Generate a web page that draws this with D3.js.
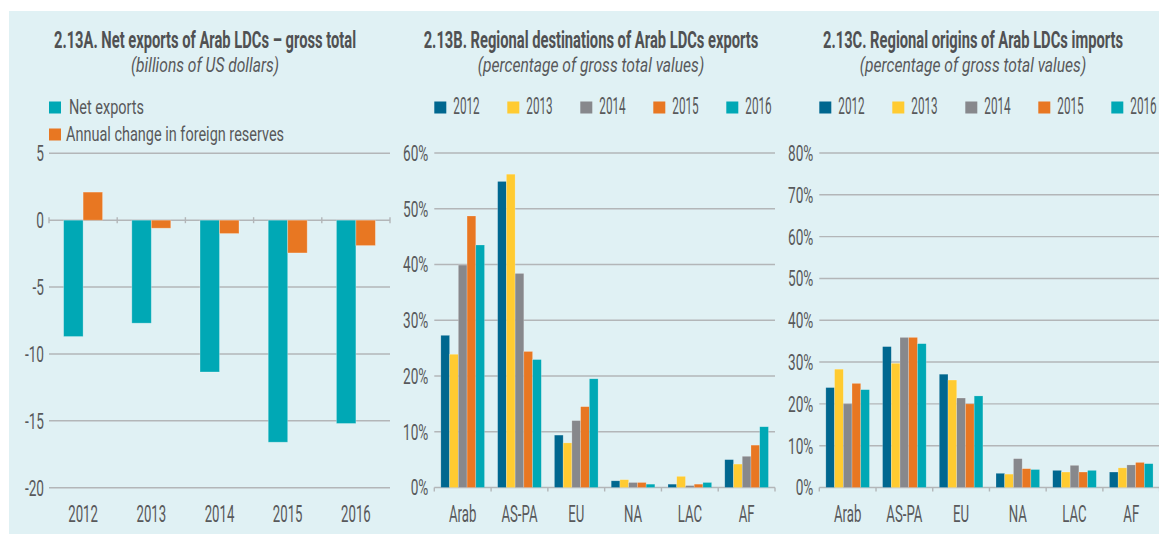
<!DOCTYPE html>
<html>
<head>
<meta charset="utf-8">
<script src="https://cdn.jsdelivr.net/npm/d3@7"></script>
<style>
  body { margin: 0; background: #fff; }
  svg text { font-family: Roboto, "Liberation Sans", sans-serif; fill: #58595b; }
</style>
</head>
<body>
<svg id="chart" width="1159" height="535"></svg>
<script>
// panel A
const yearsA = ["2012", "2013", "2014", "2015", "2016"];
const netExports = [-8.7, -7.7, -11.35, -16.6, -15.2];
const reserveChange = [2.1, -0.6, -1.0, -2.45, -1.9];
const seriesA = ["Net exports", "Annual change in foreign reserves"];
const ticksA = [5, 0, -5, -10, -15, -20];

// panels B and C
const regions = ["Arab", "AS-PA", "EU", "NA", "LAC", "AF"];
const years = ["2012", "2013", "2014", "2015", "2016"];
const exportDest = [
  [27.3, 54.9, 9.4, 1.2, 0.6, 5.0],
  [23.9, 56.2, 8.0, 1.4, 2.0, 4.2],
  [39.9, 38.4, 12.0, 0.9, 0.35, 5.6],
  [48.7, 24.4, 14.5, 0.9, 0.6, 7.6],
  [43.5, 22.95, 19.5, 0.6, 0.9, 10.9]
];
const importOrig = [
  [23.9, 33.7, 27.1, 3.4, 4.1, 3.7],
  [28.3, 29.7, 25.7, 3.2, 3.7, 4.7],
  [20.0, 35.9, 21.4, 6.9, 5.3, 5.4],
  [24.9, 35.9, 20.0, 4.5, 3.7, 6.0],
  [23.4, 34.4, 21.9, 4.3, 4.1, 5.7]
];
const ticksB = [0, 10, 20, 30, 40, 50, 60];
const ticksC = [0, 10, 20, 30, 40, 50, 60, 70, 80];

const yearColors = ["#00678f", "#ffcb31", "#87888c", "#e87722", "#00a8b5"];
const colorsA = ["#00a8b5", "#e87722"];
const gridColor = "#b3b6b8";

const svg = d3.select("#chart");

svg.append("rect")
  .attr("x", 9).attr("y", 11)
  .attr("width", 1160).attr("height", 523)
  .attr("fill", "#e0f1f4");

// squeeze text horizontally to mimic the condensed face
function condense(sel, k) {
  sel.each(function () {
    const t = d3.select(this);
    const x = +t.attr("x"), y = +t.attr("y");
    t.attr("x", 0).attr("y", 0)
      .attr("transform", `translate(${x},${y}) scale(${k},1)`);
  });
}

function titles(cx, title, sub) {
  svg.append("text")
    .attr("x", cx).attr("y", 48)
    .attr("text-anchor", "middle")
    .style("font-size", "23px").style("font-weight", "bold")
    .style("fill", "#505153")
    .text(title)
    .call(condense, 0.64);
  svg.append("text")
    .attr("x", cx).attr("y", 72)
    .attr("text-anchor", "middle")
    .style("font-size", "20px").style("font-style", "italic")
    .text(sub)
    .call(condense, 0.78);
}

function gridlines(y, ticks, x0, x1, fmt, labelX) {
  const g = svg.append("g");
  g.selectAll("line")
    .data(ticks)
    .join("line")
    .attr("x1", x0).attr("x2", x1)
    .attr("y1", d => y(d)).attr("y2", d => y(d))
    .attr("stroke", gridColor)
    .attr("stroke-width", 1.4);
  g.selectAll("text")
    .data(ticks)
    .join("text")
    .attr("x", labelX).attr("y", d => y(d))
    .attr("dy", "0.36em")
    .attr("text-anchor", "end")
    .style("font-size", "22px")
    .text(fmt)
    .call(condense, 0.62);
}

function xLabels(x) {
  svg.append("g")
    .selectAll("text")
    .data(x.domain())
    .join("text")
    .attr("x", d => x(d) + x.bandwidth() / 2)
    .attr("y", 522)
    .attr("text-anchor", "middle")
    .style("font-size", "24px")
    .text(d => d)
    .call(condense, 0.55);
}

function bandTicks(x, y0, up, down) {
  const edges = x.domain().map(d => x(d)).concat([x.range()[1]]);
  svg.append("g")
    .selectAll("line")
    .data(edges)
    .join("line")
    .attr("x1", d => d).attr("x2", d => d)
    .attr("y1", y0 - up).attr("y2", y0 + down)
    .attr("stroke", gridColor)
    .attr("stroke-width", 1.4);
}

// ---------- A ----------
{
  const x0 = d3.scaleBand().domain(yearsA).range([49, 390]);
  const x1 = d3.scaleBand().domain(seriesA).range([0, x0.bandwidth()]).paddingOuter(0.75);
  const y = d3.scaleLinear().domain([-20, 5]).range([487.7, 153.3]);

  titles(205, "2.13A. Net exports of Arab LDCs \u2013 gross total", "(billions of US dollars)");
  gridlines(y, ticksA, 49, 390, d => d, 44);
  bandTicks(x0, y(0), 3, 3);

  const rows = yearsA.map((yr, i) => [netExports[i], reserveChange[i]]);
  svg.append("g")
    .selectAll("g")
    .data(rows)
    .join("g")
    .attr("transform", (d, i) => `translate(${x0(yearsA[i])},0)`)
    .selectAll("rect")
    .data(d => d.map((v, j) => ({ v, key: seriesA[j], c: colorsA[j] })))
    .join("rect")
    .attr("x", d => x1(d.key))
    .attr("width", x1.bandwidth())
    .attr("y", d => y(Math.max(0, d.v)))
    .attr("height", d => Math.abs(y(d.v) - y(0)))
    .attr("fill", d => d.c)
    .attr("stroke", "rgba(255,255,255,0.35)")
    .attr("stroke-width", 0.8);

  xLabels(x0);

  const leg = svg.append("g")
    .selectAll("g")
    .data(seriesA)
    .join("g")
    .attr("transform", (d, i) => `translate(49,${101.5 + i * 27})`);
  leg.append("rect")
    .attr("width", 12).attr("height", 12)
    .attr("fill", (d, i) => colorsA[i]);
  leg.append("text")
    .attr("x", (d, i) => i === 0 ? 20 : 17)
    .attr("y", 12)
    .style("font-size", "21px")
    .text(d => d)
    .call(condense, 0.69);
}

// ---------- B / C ----------
function grouped(opts) {
  const x0 = d3.scaleBand().domain(regions).range([opts.left, opts.right]);
  const x1 = d3.scaleBand().domain(years).range([0, x0.bandwidth()]).paddingOuter(0.75);
  const y = d3.scaleLinear().domain([0, opts.max]).range([487.5, 153]);

  titles(opts.cx, opts.title, "(percentage of gross total values)");
  gridlines(y, opts.ticks, opts.left, opts.gridRight, d => d + "%", opts.left - 6);
  bandTicks(x0, y(0), 0, 4);

  const rows = regions.map((r, i) => opts.values.map(s => s[i]));
  svg.append("g")
    .selectAll("g")
    .data(rows)
    .join("g")
    .attr("transform", (d, i) => `translate(${x0(regions[i])},0)`)
    .selectAll("rect")
    .data(d => d.map((v, j) => ({ v, yr: years[j], c: yearColors[j] })))
    .join("rect")
    .attr("x", d => x1(d.yr))
    .attr("width", x1.bandwidth())
    .attr("y", d => y(d.v))
    .attr("height", d => y(0) - y(d.v))
    .attr("fill", d => d.c)
    .attr("stroke", "rgba(255,255,255,0.35)")
    .attr("stroke-width", 0.6);

  xLabels(x0);

  const leg = svg.append("g")
    .selectAll("g")
    .data(years)
    .join("g")
    .attr("transform", (d, i) => `translate(${opts.left + i * 73},101.5)`);
  leg.append("rect")
    .attr("width", 12).attr("height", 12)
    .attr("fill", (d, i) => yearColors[i]);
  leg.append("text")
    .attr("x", 19)
    .attr("y", 12)
    .style("font-size", "23px")
    .text(d => d)
    .call(condense, 0.51);
}

grouped({
  left: 434.3, right: 775, gridRight: 775, max: 60, ticks: ticksB,
  values: exportDest, cx: 591,
  title: "2.13B. Regional destinations of Arab LDCs exports"
});
grouped({
  left: 819.3, right: 1159.6, gridRight: 1160, max: 80, ticks: ticksC,
  values: importOrig, cx: 973,
  title: "2.13C. Regional origins of Arab LDCs imports"
});
</script>
</body>
</html>
